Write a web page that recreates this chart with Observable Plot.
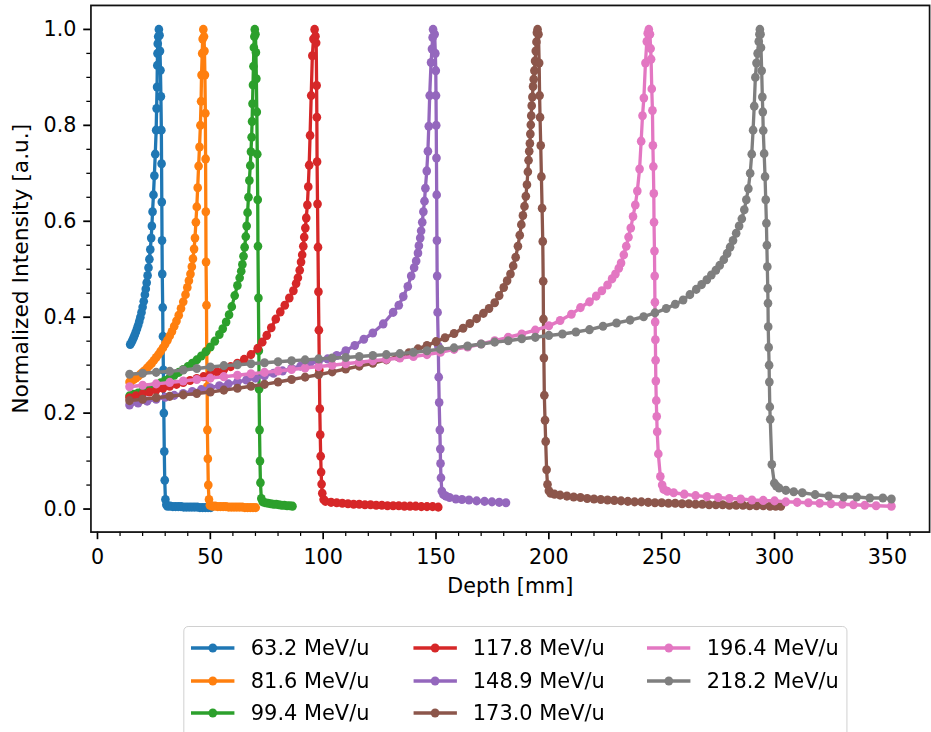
<!DOCTYPE html>
<html>
<head>
<meta charset="utf-8">
<script src="https://cdn.jsdelivr.net/npm/d3@7"></script>
<script src="https://cdn.jsdelivr.net/npm/@observablehq/plot@0.6"></script>
<style>
  html, body { margin: 0; padding: 0; background: #fff; overflow: hidden; }
  #wrap { position: relative; width: 931px; height: 732px; overflow: hidden; background: #fff; }
  #fig { position: absolute; left: 0; top: 0; height: 732px; transform-origin: 0 0; }
  #legend { position: absolute; border: 1.6px solid #cfcfcf; border-radius: 5px; background: #fff;
            font-family: "DejaVu Sans", sans-serif; font-size: 22px; color: #000; box-sizing: border-box; }
  .item { position: absolute; height: 32px; display: flex; align-items: center; white-space: nowrap; }
  .item svg { flex: none; }
  .item span { margin-left: 17px; line-height: 32px; }
</style>
</head>
<body>
<div id="wrap"><div id="fig"><div id="plot"></div><div id="legend"></div></div></div>
<script>
// ---------------- data (depth [mm], normalized intensity) ----------------
const energies = ["63.2 MeV/u", "81.6 MeV/u", "99.4 MeV/u", "117.8 MeV/u",
                  "148.9 MeV/u", "173.0 MeV/u", "196.4 MeV/u", "218.2 MeV/u"];
const colors = ["#1f77b4", "#ff7f0e", "#2ca02c", "#d62728", "#9467bd", "#8c564b", "#e377c2", "#7f7f7f"];

const e63_2 = [[14.5,0.343],[15.0,0.347],[15.5,0.352],[16.0,0.357],[16.5,0.363],[17.0,0.369],[17.5,0.376],[18.0,0.383],[18.5,0.391],[19.0,0.400],[19.5,0.410],[20.0,0.421],[20.5,0.433],[21.0,0.447],[21.4,0.459],[21.8,0.472],[22.2,0.487],[22.6,0.503],[23.0,0.521],[23.4,0.541],[23.8,0.565],[24.1,0.590],[24.4,0.620],[24.8,0.655],[25.2,0.695],[25.6,0.740],[26.0,0.790],[26.2,0.835],[26.4,0.880],[26.5,0.925],[26.6,0.950],[26.7,0.970],[26.9,0.985],[27.2,1.0],[27.5,0.988],[27.7,0.955],[27.9,0.915],[28.1,0.860],[28.3,0.790],[28.4,0.720],[28.5,0.640],[28.6,0.560],[28.7,0.490],[28.9,0.420],[29.0,0.360],[29.2,0.290],[29.4,0.200],[29.6,0.120],[29.8,0.060],[30.1,0.020],[30.5,0.009],[31.0,0.006],[32.2,0.006],[33.4,0.005],[34.6,0.005],[35.8,0.005],[37.0,0.005],[38.2,0.004],[39.4,0.004],[40.6,0.004],[41.8,0.004],[43.0,0.004],[44.2,0.004],[45.4,0.003],[46.6,0.003],[47.8,0.003],[49.0,0.003],[50.2,0.003]];

const e81_6 = [[14.2,0.265],[15,0.267],[16,0.270],[17,0.273],[18,0.277],[19,0.281],[20,0.285],[21,0.289],[22,0.294],[23,0.299],[24,0.304],[25,0.310],[26,0.316],[27,0.322],[28,0.329],[29,0.336],[30,0.344],[31,0.352],[32,0.361],[33,0.370],[34,0.381],[35,0.392],[36,0.404],[37,0.418],[38,0.432],[39,0.447],[39.8,0.462],[40.5,0.476],[41.2,0.490],[41.8,0.505],[42.3,0.522],[42.8,0.542],[43.2,0.565],[43.6,0.598],[44.0,0.630],[44.4,0.670],[44.8,0.715],[45.2,0.755],[45.6,0.800],[45.9,0.850],[46.1,0.905],[46.4,0.950],[46.6,0.980],[46.9,1.0],[47.2,0.985],[47.4,0.955],[47.6,0.905],[47.8,0.825],[47.9,0.730],[48.0,0.620],[48.1,0.515],[48.3,0.425],[48.4,0.330],[48.6,0.255],[48.7,0.165],[48.9,0.105],[49.1,0.050],[49.4,0.020],[49.8,0.008],[50.9,0.006],[52.1,0.006],[53.3,0.005],[54.5,0.005],[55.7,0.005],[56.9,0.005],[58.1,0.004],[59.3,0.004],[60.5,0.004],[61.7,0.004],[62.9,0.004],[64.1,0.004],[65.3,0.003],[66.5,0.003],[67.7,0.003],[68.9,0.003],[70.1,0.003]];

const e99_4 = [[14.2,0.236],[16,0.239],[18,0.242],[20,0.246],[22,0.250],[24,0.254],[26,0.258],[28,0.263],[30,0.268],[32,0.274],[34,0.279],[36,0.285],[38,0.291],[40,0.297],[42,0.304],[44,0.311],[46,0.319],[48,0.328],[50,0.338],[52,0.350],[54,0.364],[55.5,0.376],[57,0.390],[58.3,0.405],[59.5,0.422],[60.8,0.445],[62.0,0.466],[63.0,0.482],[63.7,0.496],[64.2,0.510],[64.7,0.527],[65.2,0.546],[65.7,0.568],[66.1,0.590],[66.5,0.618],[66.9,0.650],[67.3,0.685],[67.7,0.716],[68.0,0.745],[68.3,0.775],[68.5,0.808],[68.7,0.845],[68.9,0.884],[69.1,0.923],[69.3,0.962],[69.5,0.985],[69.7,1.0],[70.0,0.990],[70.2,0.952],[70.4,0.897],[70.6,0.828],[70.8,0.740],[71.0,0.645],[71.1,0.548],[71.3,0.440],[71.5,0.330],[71.6,0.250],[71.8,0.165],[72.0,0.100],[72.2,0.055],[72.6,0.022],[73.2,0.015],[74.4,0.013],[75.6,0.012],[76.8,0.011],[78.0,0.010],[79.2,0.010],[80.4,0.009],[81.6,0.008],[82.8,0.008],[84.0,0.007],[85.2,0.007],[86.4,0.006]];

const e117_8 = [[14.2,0.232],[17,0.236],[20,0.240],[23,0.244],[26,0.248],[29,0.252],[32,0.256],[35,0.260],[38,0.264],[41,0.268],[44,0.272],[47,0.276],[50,0.281],[53,0.286],[56,0.291],[59,0.297],[62,0.304],[65,0.312],[68,0.322],[71,0.335],[73,0.348],[75,0.362],[77,0.378],[79,0.396],[81,0.411],[83,0.425],[85,0.440],[86.8,0.455],[88.0,0.470],[88.8,0.482],[89.6,0.498],[90.2,0.515],[90.7,0.530],[91.2,0.548],[91.6,0.567],[92.1,0.586],[92.5,0.607],[93.0,0.634],[93.4,0.672],[93.8,0.717],[94.2,0.779],[94.7,0.862],[95.2,0.945],[95.7,0.980],[96.2,1.0],[96.6,0.986],[96.9,0.972],[97.1,0.883],[97.2,0.817],[97.3,0.724],[97.5,0.636],[97.7,0.546],[97.9,0.453],[98.1,0.373],[98.3,0.290],[98.5,0.209],[98.7,0.155],[98.9,0.110],[99.1,0.077],[99.3,0.052],[99.6,0.033],[100.2,0.020],[101.0,0.016],[103.5,0.014],[106,0.013],[108.5,0.012],[111,0.011],[113.5,0.010],[116,0.010],[118.5,0.009],[121,0.009],[123.5,0.008],[126,0.008],[128.5,0.007],[131,0.007],[133.5,0.007],[136,0.006],[138.5,0.006],[141,0.006],[143.5,0.005],[146,0.005],[148.5,0.005],[151,0.004]];

const e148_9 = [[14.2,0.217],[18,0.221],[22,0.225],[26,0.229],[30,0.233],[34,0.237],[38,0.241],[42,0.245],[46,0.249],[50,0.253],[54,0.257],[58,0.261],[62,0.265],[66,0.269],[70,0.273],[74,0.278],[78,0.283],[82,0.288],[86,0.293],[90,0.298],[94,0.303],[98,0.308],[102,0.313],[106,0.320],[110,0.330],[114,0.341],[118,0.354],[122,0.367],[126.6,0.386],[131,0.410],[133.5,0.425],[135.5,0.443],[137.5,0.464],[139,0.486],[140.3,0.503],[141.2,0.517],[142.0,0.534],[142.4,0.549],[143.0,0.565],[143.4,0.580],[143.9,0.598],[144.4,0.620],[144.9,0.642],[145.3,0.669],[145.9,0.705],[146.4,0.746],[146.8,0.798],[147.2,0.862],[147.8,0.931],[148.2,0.959],[148.5,0.983],[148.7,1.0],[149.4,0.990],[149.7,0.950],[149.9,0.914],[150.0,0.862],[150.1,0.800],[150.2,0.732],[150.3,0.655],[150.4,0.560],[150.5,0.486],[150.7,0.410],[151.0,0.340],[151.2,0.275],[151.4,0.222],[151.7,0.165],[151.9,0.125],[152.0,0.095],[152.2,0.065],[152.6,0.037],[153.3,0.030],[154.4,0.027],[156.0,0.024],[158.8,0.021],[161.5,0.020],[164.6,0.019],[168,0.017],[171.5,0.016],[174.8,0.015],[178,0.014],[181,0.013]];

const e173_0 = [[14.2,0.226],[20,0.229],[26,0.232],[32,0.235],[38,0.238],[44,0.241],[50,0.244],[56,0.248],[62,0.252],[68,0.256],[74,0.260],[80,0.265],[86,0.270],[92,0.275],[98,0.280],[104,0.286],[110,0.292],[116,0.298],[122,0.304],[128,0.311],[133,0.318],[138,0.326],[142,0.334],[146,0.341],[150,0.349],[154,0.357],[158,0.366],[162,0.377],[165,0.387],[168,0.397],[171,0.408],[173.5,0.418],[176,0.430],[178,0.445],[180,0.462],[181.5,0.476],[183.0,0.490],[184.2,0.507],[185.3,0.525],[186.3,0.548],[187.1,0.571],[187.8,0.593],[188.5,0.612],[189.2,0.631],[189.8,0.652],[190.3,0.676],[190.7,0.703],[191.0,0.727],[191.3,0.746],[191.6,0.762],[191.8,0.782],[192.0,0.801],[192.2,0.820],[192.4,0.841],[192.7,0.859],[193.0,0.881],[193.3,0.896],[193.6,0.914],[193.9,0.934],[194.2,0.955],[194.5,0.974],[194.7,0.993],[195.0,1.0],[195.4,0.990],[195.7,0.930],[195.9,0.862],[196.1,0.817],[196.4,0.758],[196.7,0.693],[197.0,0.627],[197.3,0.558],[197.5,0.475],[197.6,0.396],[197.8,0.315],[198.0,0.237],[198.3,0.185],[198.6,0.141],[199.0,0.082],[199.4,0.051],[200.0,0.038],[200.8,0.033],[202.5,0.031],[205,0.029],[208,0.027],[211,0.025],[214,0.024],[217,0.022],[220,0.021],[223,0.020],[226,0.019],[229,0.018],[232,0.017],[235,0.016],[238,0.015],[241,0.015],[244,0.014],[247,0.013],[250,0.013],[253,0.012],[256,0.012],[259,0.011],[262,0.011],[265,0.010],[268,0.010],[271,0.009],[274,0.009],[277,0.009],[280,0.008],[283,0.008],[286,0.008],[289,0.007],[292,0.007],[295,0.007],[298,0.006],[300.5,0.006],[302.8,0.006]];

const e196_4 = [[14.2,0.255],[20,0.258],[26,0.261],[32,0.264],[38,0.267],[44,0.270],[50,0.273],[56,0.276],[62,0.279],[68,0.282],[74,0.285],[80,0.288],[86,0.291],[92,0.294],[98,0.297],[104,0.300],[110,0.303],[116,0.306],[122,0.309],[128,0.312],[134,0.315],[140,0.318],[146,0.322],[152,0.327],[158,0.333],[164,0.338],[170,0.344],[176,0.351],[182,0.358],[188,0.365],[194,0.373],[200,0.382],[205,0.393],[210,0.406],[214,0.420],[218,0.432],[221,0.444],[223.5,0.455],[226,0.467],[228,0.480],[229.5,0.490],[231,0.502],[232,0.513],[233.2,0.530],[234.3,0.548],[235.3,0.567],[236.3,0.586],[237.3,0.610],[238.3,0.634],[239.2,0.663],[240.2,0.709],[240.9,0.767],[241.5,0.820],[242.1,0.857],[242.8,0.930],[243.4,0.975],[243.8,0.992],[244.3,1.0],[244.8,0.990],[245.1,0.960],[245.3,0.938],[245.6,0.876],[245.9,0.831],[246.1,0.758],[246.3,0.714],[246.5,0.658],[246.6,0.598],[246.8,0.538],[246.9,0.486],[247.0,0.431],[247.1,0.390],[247.2,0.353],[247.3,0.310],[247.4,0.267],[247.6,0.226],[247.8,0.193],[248.0,0.161],[248.5,0.115],[249.4,0.068],[250.2,0.050],[250.9,0.041],[252.5,0.037],[255.3,0.034],[260,0.031],[265,0.028],[270,0.026],[275,0.024],[280,0.022],[285,0.021],[290,0.019],[295,0.018],[300,0.017],[305,0.015],[310,0.014],[315,0.013],[320,0.012],[325,0.011],[330,0.010],[335,0.009],[340,0.008],[345,0.007],[351.8,0.006]];

const e218_2 = [[14.2,0.281],[20,0.283],[26,0.285],[32,0.287],[38,0.290],[44,0.293],[50,0.296],[56,0.299],[62,0.301],[68,0.303],[74,0.305],[80,0.307],[86,0.309],[92,0.311],[98,0.313],[104,0.315],[110,0.316],[116,0.318],[122,0.320],[128,0.322],[134,0.324],[140,0.327],[146,0.330],[152,0.333],[158,0.336],[164,0.340],[170,0.344],[176,0.348],[182,0.351],[188,0.355],[194,0.358],[200,0.362],[206,0.365],[212,0.369],[218,0.374],[224,0.381],[230,0.388],[236,0.394],[242,0.401],[247,0.409],[252,0.418],[256,0.427],[259.5,0.436],[262.5,0.447],[265.3,0.458],[267.7,0.468],[270,0.478],[272,0.488],[274,0.498],[275.7,0.508],[277.5,0.520],[279,0.533],[280.3,0.546],[281.6,0.560],[283,0.575],[284.3,0.590],[285.5,0.605],[286.6,0.624],[287.5,0.645],[288.4,0.668],[289.2,0.700],[289.9,0.740],[290.5,0.790],[291.0,0.840],[291.5,0.900],[292.0,0.930],[292.5,0.950],[293.0,0.975],[293.3,0.990],[293.5,1.0],[293.8,0.990],[294.0,0.962],[294.3,0.914],[294.6,0.859],[294.8,0.828],[295.0,0.789],[295.4,0.741],[295.8,0.693],[296.1,0.645],[296.4,0.596],[296.6,0.550],[296.8,0.505],[297.0,0.460],[297.1,0.429],[297.2,0.380],[297.4,0.337],[297.6,0.300],[297.7,0.265],[297.9,0.213],[298.1,0.187],[298.8,0.093],[299.9,0.054],[300.8,0.048],[302,0.044],[305,0.039],[308.5,0.036],[312.3,0.034],[318,0.030],[324,0.027],[330.6,0.025],[336.4,0.025],[342.2,0.023],[348,0.023],[351.8,0.021]];

const seriesData = [e63_2, e81_6, e99_4, e117_8, e148_9, e173_0, e196_4, e218_2];

const xTicks = [0, 50, 100, 150, 200, 250, 300, 350];
const xMinorTicks = [10, 20, 30, 40, 60, 70, 80, 90, 110, 120, 130, 140, 160, 170, 180, 190, 210, 220, 230, 240, 260, 270, 280, 290, 310, 320, 330, 340, 360];
const yTicks = [0.0, 0.2, 0.4, 0.6, 0.8, 1.0];
const yMinorTicks = [0.05, 0.1, 0.15, 0.25, 0.3, 0.35, 0.45, 0.5, 0.55, 0.65, 0.7, 0.75, 0.85, 0.9, 0.95];
const xLabel = "Depth [mm]";
const yLabel = "Normalized Intensity [a.u.]";

// ---------------- layout ----------------
const S = 0.95;                 // horizontal squeeze of the reference figure
const FONT = "DejaVu Sans";
const FS = 22;
const fig = document.getElementById("fig");
fig.style.width = (931 / S) + "px";
fig.style.transform = `scaleX(${S})`;

const marks = [];
marks.push(Plot.axisX({ticks: xMinorTicks, tickSize: 4.4, strokeWidth: 1.3, tickFormat: () => "", label: null}));
marks.push(Plot.axisY({ticks: yMinorTicks, tickSize: 4.4, strokeWidth: 1.3, tickFormat: () => "", label: null}));
marks.push(Plot.axisX({ticks: xTicks, tickSize: 7.7, tickPadding: 8.5, strokeWidth: 1.8, tickFormat: d => String(d), label: null}));
marks.push(Plot.axisY({ticks: yTicks, tickSize: 7.7, tickPadding: 7.7, strokeWidth: 1.8, tickFormat: d3.format(".1f"), label: null}));

seriesData.forEach((data, i) => {
  marks.push(Plot.line(data, {x: d => d[0], y: d => d[1], stroke: colors[i], strokeWidth: 3.5, strokeLinejoin: "round"}));
  marks.push(Plot.dot(data, {x: d => d[0], y: d => d[1], r: 4.6, fill: colors[i], stroke: "none"}));
});

marks.push(Plot.text([xLabel], {text: d => d, frameAnchor: "bottom", lineAnchor: "middle", textAnchor: "middle", dy: 55, fontSize: FS}));
marks.push(Plot.text([yLabel], {text: d => d, frameAnchor: "left", lineAnchor: "middle", textAnchor: "middle", rotate: -90, dx: -74, fontSize: FS}));
marks.push(Plot.frame({stroke: "#111", strokeWidth: 1.8}));

const chart = Plot.plot({
  width: 990,
  height: 615,
  marginLeft: 96.2,
  marginRight: 2,
  marginTop: 5,
  marginBottom: 78,
  style: {fontFamily: FONT, fontSize: FS + "px", background: "white", color: "black", overflow: "visible"},
  x: {type: "linear", domain: [-2.9, 368.7]},
  y: {type: "linear", domain: [-0.048, 1.05]},
  marks
});
document.getElementById("plot").appendChild(chart);

// ---------------- legend (3 columns, column-major like matplotlib ncol=3) ----------------
const legend = document.getElementById("legend");
legend.style.left = "192.6px";
legend.style.top = "626px";
legend.style.width = "699px";
legend.style.height = "130px";
const colX = [7.4, 241.1, 487.4];
const rowY = [5, 37.7, 70.4];
const order = [[0, 0], [0, 1], [0, 2], [1, 0], [1, 1], [1, 2], [2, 0], [2, 1]];
energies.forEach((lab, i) => {
  const [c, r] = order[i];
  const item = document.createElement("div");
  item.className = "item";
  item.style.left = colX[c] + "px";
  item.style.top = rowY[r] + "px";
  item.innerHTML = `<svg width="46" height="14" viewBox="0 0 46 14"><line x1="0" y1="7" x2="46" y2="7" stroke="${colors[i]}" stroke-width="3.5"/><circle cx="23" cy="7" r="4.6" fill="${colors[i]}"/></svg><span>${lab}</span>`;
  legend.appendChild(item);
});
</script>
</body>
</html>
